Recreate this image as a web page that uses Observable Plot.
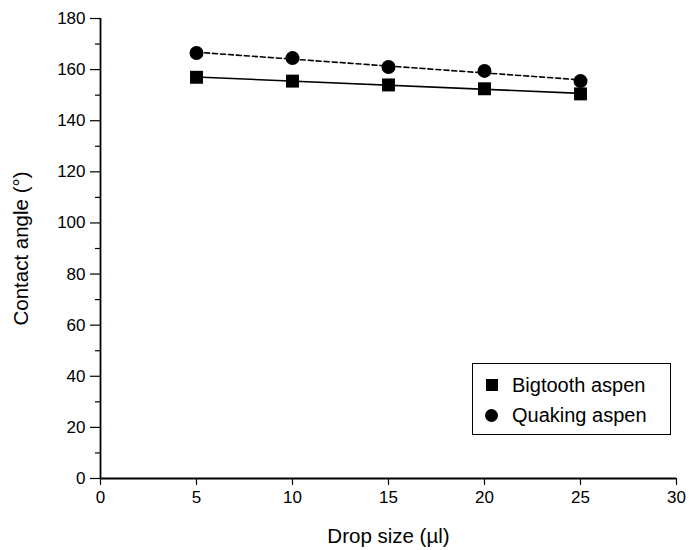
<!DOCTYPE html>
<html>
<head>
<meta charset="utf-8">
<script src="https://cdn.jsdelivr.net/npm/d3@7"></script>
<script src="https://cdn.jsdelivr.net/npm/@observablehq/plot@0.6"></script>
<style>
  html, body { margin: 0; padding: 0; background: #fff; }
  #wrap { position: relative; width: 689px; height: 550px; font-family: "Liberation Sans", Arial, Helvetica, sans-serif; }
  #legend { position: absolute; left: 472px; top: 363px; width: 197px; height: 70px; border: 1px solid #000; background: #fff; box-sizing: content-box; }
  .row { position: absolute; left: 0; height: 24px; display: flex; align-items: center; font-size: 20px; color: #000; white-space: nowrap; }
  .sq { display: inline-block; width: 12px; height: 12px; background: #000; margin-left: 13px; margin-right: 14px; }
  .ci { display: inline-block; width: 13px; height: 13px; border-radius: 50%; background: #000; margin-left: 12px; margin-right: 14px; }
</style>
</head>
<body>
<div id="wrap"><div id="chart"></div><div id="legend"></div></div>
<script>
// ---- data ----
const seriesNames = ["Bigtooth aspen", "Quaking aspen"];
const dropSizes = [5, 10, 15, 20, 25];
const bigtoothAngles = [157, 155.5, 154, 152.5, 150.5];
const quakingAngles = [166.5, 164.5, 161, 159.5, 155.5];
const xTicks = [0, 5, 10, 15, 20, 25, 30];
const yTicks = [0, 20, 40, 60, 80, 100, 120, 140, 160, 180];
const yMinorTicks = [10, 30, 50, 70, 90, 110, 130, 150, 170];
const xLabel = "Drop size (µl)";
const yLabel = "Contact angle (°)";

const bigtooth = dropSizes.map((d, i) => ({drop: d, angle: bigtoothAngles[i], series: seriesNames[0]}));
const quaking = dropSizes.map((d, i) => ({drop: d, angle: quakingAngles[i], series: seriesNames[1]}));

const chart = Plot.plot({
  width: 689,
  height: 550,
  marginLeft: 100,
  marginRight: 13,
  marginTop: 18,
  marginBottom: 72,
  style: {fontFamily: '"Liberation Sans", Arial, Helvetica, sans-serif', fontSize: "17px", color: "#000", background: "#fff"},
  x: {domain: [0, 30]},
  y: {domain: [0, 180]},
  marks: [
    Plot.axisY({ticks: yMinorTicks, tickSize: 5, tickFormat: () => "", label: null, strokeWidth: 1.2}),
    Plot.axisY({ticks: yTicks, tickSize: 10, tickPadding: 5, fontSize: 17, strokeWidth: 1.2, label: null}),
    Plot.axisY({ticks: [], tickSize: 0, fontSize: 20.5, label: yLabel, labelAnchor: "center", labelArrow: "none", labelOffset: 87}),
    Plot.axisX({ticks: xTicks, tickSize: 7, tickPadding: 5, fontSize: 17, strokeWidth: 1.2, label: null}),
    Plot.axisX({ticks: [], tickSize: 0, fontSize: 20.5, label: xLabel, labelAnchor: "center", labelArrow: "none", labelOffset: 64}),
    Plot.ruleX([0], {stroke: "#000", strokeWidth: 1.8}),
    Plot.ruleY([0], {stroke: "#000", strokeWidth: 1.8}),
    Plot.linearRegressionY(bigtooth, {x: "drop", y: "angle", ci: 0, stroke: "#000", strokeWidth: 1.6}),
    Plot.linearRegressionY(quaking, {x: "drop", y: "angle", ci: 0, stroke: "#000", strokeWidth: 1.6, strokeDasharray: "5,3"}),
    Plot.dot(bigtooth, {x: "drop", y: "angle", symbol: "square", r: 7.3, fill: "#000", stroke: "none"}),
    Plot.dot(quaking, {x: "drop", y: "angle", symbol: "circle", r: 7, fill: "#000", stroke: "none"})
  ]
});
document.getElementById("chart").appendChild(chart);

const legend = document.getElementById("legend");
seriesNames.forEach((name, i) => {
  const row = document.createElement("div");
  row.className = "row";
  row.style.top = (9 + i * 30) + "px";
  const m = document.createElement("span");
  m.className = i === 0 ? "sq" : "ci";
  row.appendChild(m);
  const t = document.createElement("span");
  t.textContent = name;
  row.appendChild(t);
  legend.appendChild(row);
});
</script>
</body>
</html>
